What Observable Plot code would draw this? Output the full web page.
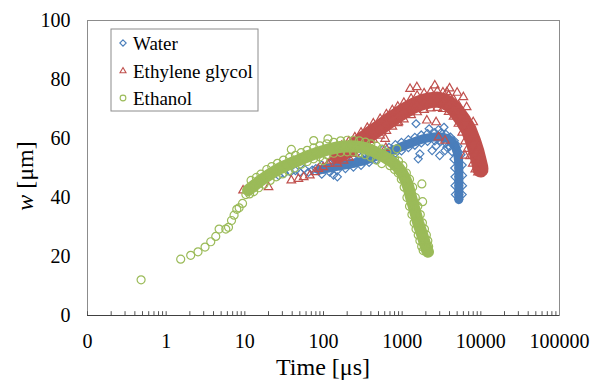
<!DOCTYPE html>
<html><head><meta charset="utf-8">
<script src="https://cdn.jsdelivr.net/npm/d3@7"></script>
<script src="https://cdn.jsdelivr.net/npm/@observablehq/plot@0.6"></script>
<style>
body{margin:0;background:#fff;}
#chart{position:relative;width:601px;height:381px;}
#chart svg text{font-family:"Liberation Serif","Times New Roman",serif;}
</style></head><body><div id="chart"></div>
<script>
// ---------- data (Time [µs], w [µm]) ----------
const seriesNames = ["Water", "Ethylene glycol", "Ethanol"];
const seriesColors = ["#4a7ebb", "#c0504d", "#9bbb59"];

const xTickValues = [0.1, 1, 10, 100, 1000, 10000, 100000];
const xTickLabels = ["0", "1", "10", "100", "1000", "10000", "100000"];
const yTickValues = [0, 20, 40, 60, 80, 100];

// Water: dense band centre / edges / scattered points
const waterLine = [[88,49.3],[100,49.6],[125,50.1],[160,50.7],[200,51.2],[250,51.7],[320,52.4],[400,53.3],[500,54.2],[600,55],[700,55.6],[850,56.5],[1000,57.3],[1250,58.3],[1500,59.1],[1850,59.9],[2300,60.4],[2800,60.6],[3300,60.4],[3800,60],[4300,59],[4700,57.5],[5000,55.5],[5200,53],[5250,50],[5250,47],[5250,44],[5250,41],[5250,39.3]];
const waterUpper = [[95,51],[120,51.5],[150,52],[190,52.6],[240,53.1],[300,53.7],[380,54.6],[470,55.5],[570,56.3],[680,57],[820,57.9],[980,58.7],[1200,59.6],[1450,60.4],[1750,61.2],[2100,61.7],[2600,62],[3100,61.9],[3600,61.4],[4100,60.5],[4600,59.2],[5100,57.4],[5600,54.5],[5800,51],[5850,47.5],[5850,44],[5800,41]];
const waterLower = [[95,47.9],[120,48.6],[150,49.2],[190,49.8],[240,50.3],[300,50.9],[380,51.9],[470,52.8],[570,53.6],[680,54.2],[820,55],[980,55.8],[1200,56.9],[1450,57.7],[1750,58.5],[2100,59],[2600,59.2],[3100,59],[3600,58.4],[4000,57.3],[4300,55.5],[4550,53],[4650,50],[4700,47],[4700,44],[4750,41]];
const waterScatter = [[27,47.4],[32,48.2],[38,48.6],[44,49.1],[50,48.6],[57,49.7],[64,48.5],[72,49.3],[80,49.8],[134,47.6],[150,47],[1500,65],[1600,53.1],[1680,54.8],[2200,63.3],[2400,55.9],[2900,63],[3000,54.2],[3400,63.8],[3500,55.9],[3700,57],[2700,57.5]];

// Ethylene glycol
const egLine = [[150,54.2],[180,55.3],[210,56.3],[250,57.6],[300,59.2],[360,60.8],[430,62.3],[525,63.8],[630,65.4],[750,66.8],[880,68],[1050,69.3],[1300,70.7],[1550,71.7],[1900,72.5],[2300,73],[2800,73.2],[3300,72.8],[3900,71.8],[4500,70.4],[5200,68.3],[6000,66],[7000,63],[8000,59],[8800,55.5],[9400,52.5],[9800,50.5],[9900,49.5]];
const egUpper = [[170,57.5],[210,59],[250,60.4],[300,62],[360,63.6],[430,65.1],[525,66.6],[630,68.2],[750,69.6],[880,70.8],[1050,72.1],[1300,73.5],[1550,74.5],[1900,75.3],[2300,75.8],[2800,76],[3300,75.6],[3900,74.6],[4500,73.2],[5200,71.3],[5900,68.8],[6600,66.3],[7300,63.8],[8000,61.5],[8700,59.5],[9400,57],[9900,54.5],[10300,52],[10400,49.5]];
const egLower = [[150,51.5],[180,52.5],[210,53.5],[250,54.8],[300,56.4],[360,58],[430,59.5],[525,61],[630,62.6],[750,64],[880,65.2],[1050,66.5],[1300,67.9],[1550,68.9],[1900,69.7],[2300,70.2],[2800,70.4],[3300,70],[3900,69],[4500,67.4],[5200,65],[5800,62],[6300,59],[6800,56.5],[7300,54],[7900,51.5],[8500,49.5],[9200,48.5]];
const egScatter = [[9.5,42.4],[20,43.5],[39,45.8],[48,46.3],[56,46.9],[67,47.5],[78,48.6],[86,49.7],[99,50.3],[114,51.4],[124,52.5],[137,53.7],[1260,76.8],[1538,77.4],[2600,78],[3700,75.7],[897,65.5],[607,59.9],[620,56.8],[1260,68.9],[2060,66.1],[2700,65.5],[2900,60.4],[3500,59.3],[6000,74],[6600,70.6],[8000,65.5],[6300,54.2],[4000,77],[5000,75.5]];

// Ethanol
const ethanolLine = [[11,42.5],[13,44],[15,45.3],[17,46.3],[20,47.6],[24,48.9],[28,49.9],[33,50.8],[40,51.8],[46,52.4],[55,53.3],[65,54.1],[80,55],[100,55.8],[123,56.5],[150,57],[180,57.3],[220,57.4],[260,57.3],[310,57],[370,56.4],[440,55.6],[520,54.6],[600,53.7],[700,52.6],[800,51.4],[900,50],[1000,48.3],[1100,46.2],[1200,43.5],[1300,40],[1400,37],[1500,34.2],[1600,31.4],[1700,29.3],[1800,27.3],[1900,25.3],[2000,23.4],[2070,22.2],[2130,21.6]];
const ethanolUpper = [[12,45.8],[14,46.8],[16,47.9],[19,49.5],[22,50.5],[26,51.6],[31,52.7],[37,53.6],[44,54.3],[52,55.2],[62,56],[75,56.8],[90,57.5],[110,58.2],[135,58.7],[165,59.2],[200,59.4],[240,59.4],[285,59.2],[340,58.8],[400,58.2],[470,57.4],[550,56.4],[640,55.3],[800,53.3],[900,52.3],[1020,50.8],[1130,48.3],[1240,46.2],[1360,43.5],[1470,40],[1580,37],[1700,34.2],[1810,31.4],[1920,29.3],[2030,27.3],[2120,25.3],[2170,23.4]];
const ethanolLower = [[11.5,41.2],[13,42],[15,43.3],[17.5,44.5],[21,45.8],[25,47],[30,48],[36,49],[43,50],[52,51.3],[62,52.2],[75,53.1],[90,53.8],[110,54.5],[135,55],[165,55.3],[200,55.5],[240,55.4],[285,55.1],[340,54.5],[400,53.7],[470,52.7],[550,51.5],[700,50.8],[800,49.5],[890,48.3],[975,46.2],[1060,43.5],[1150,40],[1240,37],[1330,34.2],[1420,31.4],[1500,29.3],[1600,27.3],[1680,25.3],[1770,23.4],[1850,22]];
const ethanolScatter = [[0.48,12.1],[1.53,19.1],[2.05,20.4],[2.54,21.6],[3.12,23.2],[3.69,25],[4.27,26.8],[4.71,29.3],[5.73,29.3],[6.2,29.9],[6.77,32.2],[7.3,34],[7.9,36],[8.46,36.5],[9.35,38],[10.3,41],[39,56.3],[75,59.3],[114,59.9],[99,52.5],[855,56.5],[1780,44.6],[1820,38.6]];

// ---------- helpers ----------
const rows = arr => arr.map(([t, w]) => ({t, w}));
const minorTicks = [];
for (let e = -1; e < 5; e++) for (let k = 1; k <= 9; k++) minorTicks.push(k * Math.pow(10, e));

const symbols = ["diamond2", "triangle2", "circle"];
const radii = [3.6, 4.1, 4.0];
const bandWidths = [9, 16, 12];
const font = '"Liberation Serif", "Times New Roman", serif';

function seriesMarks(i, line, upper, lower, scatter) {
  const c = seriesColors[i];
  const dotOpts = {x: "t", y: "w", symbol: () => symbols[i], r: radii[i], stroke: c, fill: "none", strokeWidth: 1.2};
  return [
    Plot.line(rows(line), {x: "t", y: "w", stroke: c, strokeWidth: bandWidths[i], strokeLinecap: "round", strokeLinejoin: "round"}),
    Plot.dot(rows(line), dotOpts),
    Plot.dot(rows(upper), dotOpts),
    Plot.dot(rows(lower), dotOpts),
    Plot.dot(rows(scatter), dotOpts)
  ];
}

const chart = Plot.plot({
  width: 601, height: 381,
  marginLeft: 87, marginRight: 42, marginTop: 20, marginBottom: 66,
  style: {fontFamily: font, fontSize: "20px", background: "#fff", color: "#000"},
  x: {type: "log", domain: [0.1, 100000]},
  y: {domain: [0, 100]},
  symbol: {type: "identity"},
  marks: [
    Plot.frame({stroke: "#8c8c8c"}),
    Plot.axisY({ticks: yTickValues, tickSize: 0, tickPadding: 17, label: null, fontSize: 20, fontFamily: font}),
    Plot.axisX({ticks: xTickValues, tickFormat: d => xTickLabels[xTickValues.indexOf(d)], tickSize: 0, tickPadding: 18, label: null, fontSize: 20, fontFamily: font}),
    Plot.ruleX(minorTicks, {x: d => d, y1: 0, y2: 1.3, stroke: "#555", strokeWidth: 1}),
    ...seriesMarks(0, waterLine, waterUpper, waterLower, waterScatter),
    ...seriesMarks(1, egLine, egUpper, egLower, egScatter),
    ...seriesMarks(2, ethanolLine, ethanolUpper, ethanolLower, ethanolScatter),
    Plot.ruleY([0], {stroke: "#404040", strokeWidth: 1.2})
  ]
});
document.getElementById("chart").appendChild(chart);

// ---------- axis titles & legend ----------
const svg = d3.select(chart);
svg.append("text").attr("x", 323).attr("y", 375).attr("text-anchor", "middle")
  .attr("font-family", font).attr("font-size", 24).attr("fill", "#000").text("Time [μs]");
const yt = svg.append("text").attr("transform", "translate(33,176) rotate(-90)").attr("text-anchor", "middle")
  .attr("font-family", font).attr("font-size", 24).attr("fill", "#000");
yt.append("tspan").attr("font-style", "italic").text("w");
yt.append("tspan").text(" [μm]");

const lg = svg.append("g").attr("text-anchor", "start");
lg.append("rect").attr("x", 111).attr("y", 29).attr("width", 147).attr("height", 82)
  .attr("fill", "#fff").attr("stroke", "#8c8c8c");
const legSyms = [d3.symbolDiamond2, d3.symbolTriangle2, d3.symbolCircle];
const legY = [43, 71, 98];
seriesNames.forEach((name, i) => {
  lg.append("path").attr("d", d3.symbol(legSyms[i], 26)())
    .attr("transform", `translate(123,${legY[i]})`).attr("fill", "none")
    .attr("stroke", seriesColors[i]).attr("stroke-width", 1.1);
  lg.append("text").attr("x", 133).attr("y", legY[i]).attr("dy", "0.35em").attr("text-anchor", "start")
    .attr("font-family", font).attr("font-size", 19).attr("fill", "#000").text(name);
});
</script></body></html>
